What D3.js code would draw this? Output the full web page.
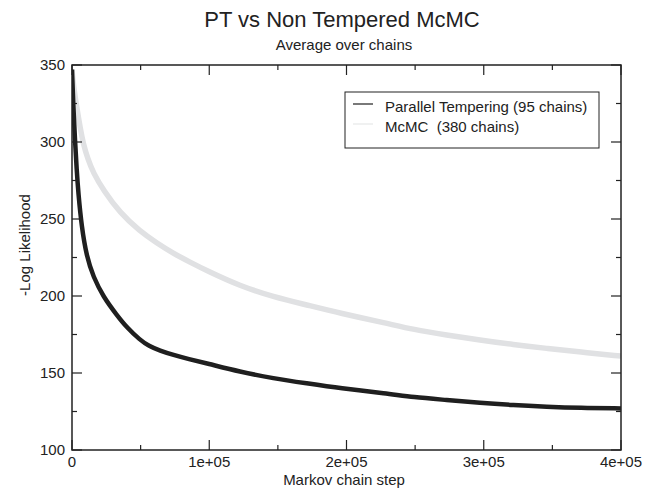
<!DOCTYPE html>
<html>
<head>
<meta charset="utf-8">
<script src="https://cdn.jsdelivr.net/npm/d3@7"></script>
<style>
  body { margin: 0; background: #fff; }
  text { font-family: "Liberation Sans", Arial, sans-serif; fill: #222; }
</style>
</head>
<body>
<div id="chart"></div>
<script>
// values
var ptSteps  = [0, 1000, 2200, 3400, 4600, 7000, 10700, 15500, 22800, 32600, 40000, 49500, 56000, 64000, 73800, 85000, 98100, 122400, 146700, 171000, 195300, 229300, 248700, 273000, 297300, 321500, 345900, 370100, 400000];
var ptValues = [347, 322, 301, 282, 267, 245, 225.5, 212.5, 199.5, 187.7, 179.5, 171.5, 167.5, 164.5, 161.7, 159, 156.3, 150.8, 146.5, 143.3, 140.1, 136.8, 134.2, 132.5, 130.6, 129.2, 128.1, 127.3, 127];

var mcSteps  = [0, 1000, 3400, 6000, 8200, 11500, 15500, 22800, 35000, 49500, 61700, 73800, 86000, 98100, 122400, 146700, 171000, 195300, 229300, 248700, 273000, 297300, 321500, 345900, 370100, 400000];
var mcValues = [347, 337, 323, 309, 299, 289, 280, 268.8, 254, 242, 234.5, 227.7, 222, 216.5, 206.5, 199.5, 194.2, 188.8, 182.3, 178.2, 174.7, 171.4, 168.4, 166, 163.6, 161];

var xTicks = [0, 100000, 200000, 300000, 400000];
var xTickLabels = ["0", "1e+05", "2e+05", "3e+05", "4e+05"];
var yTicks = [100, 150, 200, 250, 300, 350];

var seriesNames = ["Parallel Tempering (95 chains)", "McMC  (380 chains)"];

(function() {
  var width = 653,
      height = 491;
  var left = 72, right = 621, top = 65, bottom = 450;

  var svg = d3.select("#chart")
    .append("svg")
    .attr("width", width)
    .attr("height", height);

  var x = d3.scaleLinear().domain([0, 400000]).range([left, right]);
  var y = d3.scaleLinear().domain([100, 350]).range([bottom, top]);

  // titles
  svg.append("text")
    .attr("x", 342).attr("y", 27)
    .attr("text-anchor", "middle")
    .style("font-size", "22px")
    .text("PT vs Non Tempered McMC");

  svg.append("text")
    .attr("x", 344).attr("y", 50)
    .attr("text-anchor", "middle")
    .style("font-size", "15px")
    .text("Average over chains");

  // clip for the curves
  svg.append("clipPath").attr("id", "plot")
    .append("rect")
    .attr("x", left).attr("y", top)
    .attr("width", right - left).attr("height", bottom - top);

  var line = d3.line()
    .x(function(d) { return x(d[0]); })
    .y(function(d) { return y(d[1]); })
    .curve(d3.curveBasis);

  var mcData = mcSteps.map(function(s, i) { return [s, mcValues[i]]; });
  var ptData = ptSteps.map(function(s, i) { return [s, ptValues[i]]; });

  var g = svg.append("g").attr("clip-path", "url(#plot)");

  g.append("path")
    .datum(mcData)
    .attr("d", line)
    .attr("fill", "none")
    .attr("stroke", "#e0e1e3")
    .attr("stroke-width", 5.5);

  g.append("path")
    .datum(ptData)
    .attr("d", line)
    .attr("fill", "none")
    .attr("stroke", "#1f1f1f")
    .attr("stroke-width", 4.5);

  // frame and inward ticks on all four sides
  var axisG = svg.append("g");

  axisG.append("rect")
    .attr("x", left).attr("y", top)
    .attr("width", right - left).attr("height", bottom - top)
    .attr("fill", "none")
    .attr("stroke", "#222")
    .attr("stroke-width", 1.5);

  var xMinor = d3.range(0, 400001, 50000);
  var yMinor = d3.range(100, 351, 25);

  function tickLen(isMajor) { return isMajor ? 10 : 5; }

  xMinor.forEach(function(v) {
    var len = tickLen(v % 100000 === 0);
    axisG.append("line")
      .attr("x1", x(v)).attr("x2", x(v))
      .attr("y1", bottom).attr("y2", bottom - len)
      .attr("stroke", "#222").attr("stroke-width", 1.2);
    axisG.append("line")
      .attr("x1", x(v)).attr("x2", x(v))
      .attr("y1", top).attr("y2", top + len)
      .attr("stroke", "#222").attr("stroke-width", 1.2);
  });

  yMinor.forEach(function(v) {
    var len = tickLen(v % 50 === 0);
    axisG.append("line")
      .attr("x1", left).attr("x2", left + len)
      .attr("y1", y(v)).attr("y2", y(v))
      .attr("stroke", "#222").attr("stroke-width", 1.2);
    axisG.append("line")
      .attr("x1", right).attr("x2", right - len)
      .attr("y1", y(v)).attr("y2", y(v))
      .attr("stroke", "#222").attr("stroke-width", 1.2);
  });

  // tick labels
  axisG.selectAll(".xlab")
    .data(xTicks)
    .enter()
    .append("text")
    .attr("class", "xlab")
    .attr("x", function(d) { return x(d); })
    .attr("y", bottom + 17)
    .attr("text-anchor", "middle")
    .style("font-size", "15px")
    .text(function(d, i) { return xTickLabels[i]; });

  axisG.selectAll(".ylab")
    .data(yTicks)
    .enter()
    .append("text")
    .attr("class", "ylab")
    .attr("x", left - 7)
    .attr("y", function(d) { return y(d) + 5; })
    .attr("text-anchor", "end")
    .style("font-size", "15px")
    .text(function(d) { return d; });

  // axis titles
  svg.append("text")
    .attr("x", 344).attr("y", 485)
    .attr("text-anchor", "middle")
    .style("font-size", "15px")
    .text("Markov chain step");

  svg.append("text")
    .attr("transform", "translate(30,245) rotate(-90)")
    .attr("text-anchor", "middle")
    .style("font-size", "15px")
    .text("-Log Likelihood");

  // legend
  var legend = svg.append("g");
  legend.append("rect")
    .attr("x", 345).attr("y", 92)
    .attr("width", 254).attr("height", 56)
    .attr("fill", "#fff")
    .attr("stroke", "#222")
    .attr("stroke-width", 1);

  var legendColors = ["#1f1f1f", "#e6e7e8"];
  seriesNames.forEach(function(name, i) {
    var ly = 104 + i * 20;
    legend.append("line")
      .attr("x1", 353).attr("x2", 373)
      .attr("y1", ly).attr("y2", ly)
      .attr("stroke", legendColors[i])
      .attr("stroke-width", 1.2);
    legend.append("text")
      .attr("x", 385).attr("y", ly + 8)
      .style("font-size", "15px")
      .style("white-space", "pre")
      .attr("xml:space", "preserve")
      .text(name);
  });
})();
</script>
</body>
</html>
